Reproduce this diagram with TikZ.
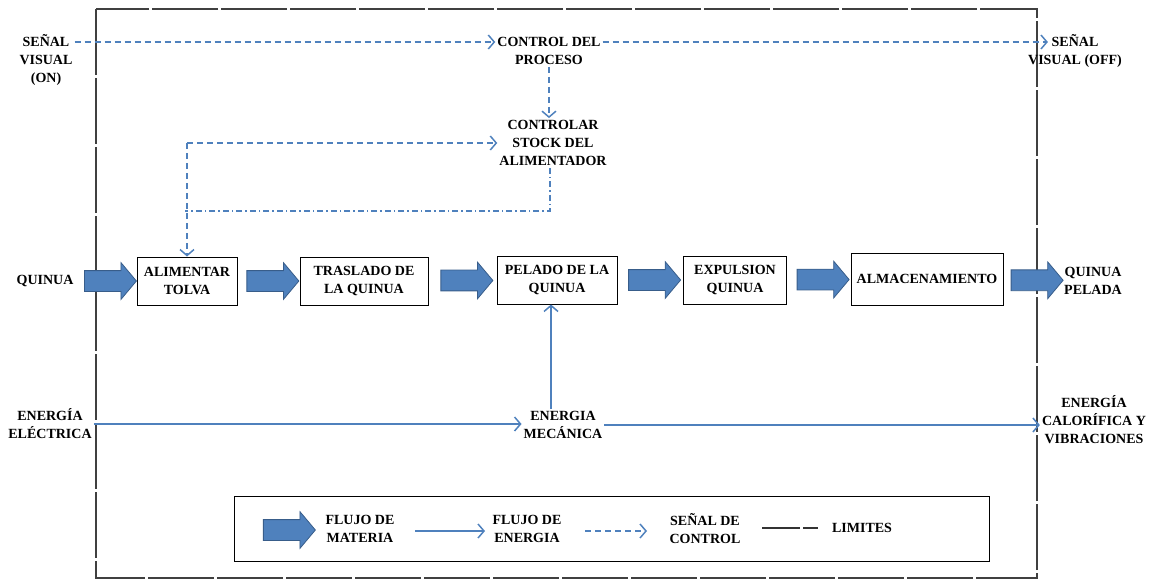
\documentclass[tikz,border=0pt]{standalone}
\usepackage{fontspec}
\setmainfont{Liberation Serif}
\usetikzlibrary{arrows.meta,shapes.arrows}
\definecolor{FlowBlue}{RGB}{79,129,189}
\definecolor{FlowBlueDark}{RGB}{56,93,138}

\begin{document}
\begin{tikzpicture}[x=1pt, y=-1pt, font=\fontsize{14}{18}\selectfont\bfseries,
    lbl/.style={align=center, inner sep=2pt},
    procbox/.style={draw, line width=1pt, align=center, minimum height=48pt, inner sep=3pt},
    matflow/.style={single arrow, fill=FlowBlue, draw=FlowBlueDark, line width=0.8pt, minimum height=52pt, minimum width=36pt, single arrow head extend=8pt, single arrow tip angle=100, inner xsep=0pt, inner ysep=10pt},
    energ/.style={FlowBlue, line width=1.5pt, -{Straight Barb[length=6pt,width=14pt]}},
    ctrl/.style={energ, dash pattern=on 6pt off 4pt},
    ctrldot/.style={FlowBlue, line width=1.3pt, dash pattern=on 6pt off 3pt on 1.5pt off 3pt},
    limit/.style={black!75, line width=1.5pt, dash pattern=on 66pt off 3pt}]
    \useasboundingbox (0,0) rectangle (1156,581);

    % limites del sistema
    \draw[limit] (96,9) rectangle (1037,578);

    % senales de control
    \node (SenalOn) [lbl] at (46,60) {SEÑAL\\VISUAL\\(ON)};
    \node (Proceso) [lbl] at (549,51) {CONTROL DEL\\PROCESO};
    \node (SenalOff) [lbl] at (1075,51) {SEÑAL\\VISUAL (OFF)};
    \node (Stock) [lbl] at (553,143) {CONTROLAR\\STOCK DEL\\ALIMENTADOR};

    % flujo de materia
    \node (Quinua) [lbl] at (45,281) {QUINUA};
    \node (Tolva) [procbox, minimum width=100pt] at (187,281) {ALIMENTAR\\TOLVA};
    \node (Traslado) [procbox, minimum width=128pt] at (364,281) {TRASLADO DE\\LA QUINUA};
    \node (Pelado) [procbox, minimum width=120pt] at (557,280) {PELADO DE LA\\QUINUA};
    \node (Expulsion) [procbox, minimum width=103pt] at (735,280) {EXPULSION\\QUINUA};
    \node (Almacen) [procbox, minimum width=152pt, minimum height=52pt, inner xsep=1pt] at (927,279) {ALMACENAMIENTO};
    \node (QuinuaPelada) [lbl] at (1093,281) {QUINUA\\PELADA};

    % flujo de energia
    \node (Electrica) [lbl] at (50,424) {ENERGÍA\\ELÉCTRICA};
    \node (Mecanica) [lbl] at (563,425) {ENERGIA\\MECÁNICA};
    \node (Calorifica) [lbl] at (1094,420) {ENERGÍA\\CALORÍFICA Y\\VIBRACIONES};

    \draw[ctrl] ([yshift=18pt]SenalOn.east) -- ([yshift=9pt]Proceso.west);
    \draw[ctrl] ([yshift=9pt]Proceso.east) -- ([xshift=22pt,yshift=9pt]SenalOff.west);
    \draw[ctrl] (Proceso.south) -- (Proceso.south |- Stock.north);
    \coordinate (Corner) at (Tolva.north |- Stock.west);
    \coordinate (Join) at (185,211);
    \draw[ctrl] (Corner) -- (Stock.west);
    \draw[ctrl] (Corner) -- (Tolva.north);
    \draw[ctrldot] ([xshift=-3pt]Stock.south) |- (Join);

    \path (Quinua) -- (Tolva) node[midway, matflow] {};
    \path (Tolva) -- (Traslado) node[midway, matflow] {};
    \path (Traslado) -- (Pelado) node[midway, matflow] {};
    \path (Pelado) -- (Expulsion) node[midway, matflow] {};
    \path (Expulsion) -- (Almacen) node[midway, matflow] {};
    \path (Almacen) -- (QuinuaPelada) node[midway, matflow] {};

    \draw[energ] (Electrica.east) -- (Electrica.east -| Mecanica.west);
    \draw[energ] (Mecanica.east) -- (Mecanica.east -| Calorifica.west);
    \draw[energ] ([xshift=-12pt]Mecanica.north) -- ([xshift=-12pt]Mecanica.north |- Pelado.south);

    % leyenda
    \node (Leyenda) [draw, line width=1pt, minimum width=755pt, minimum height=65pt] at (612,529) {};
    \node (LeyMat) [matflow] at (285,530) {};
    \node (TxtMat) [lbl] at (360,529) {FLUJO DE\\MATERIA};
    \coordinate (EnA) at (415,531);
    \coordinate (EnB) at (485,531);
    \draw[energ] (EnA) -- (EnB);
    \node (TxtEn) [lbl] at (527,529) {FLUJO DE\\ENERGIA};
    \coordinate (CtA) at (585,531);
    \coordinate (CtB) at (647,531);
    \draw[ctrl] (CtA) -- (CtB);
    \node (TxtCt) [lbl] at (705,529) {SEÑAL DE\\CONTROL};
    \coordinate (LimA) at (762,528);
    \coordinate (LimB) at (818,528);
    \draw[black!80, line width=1.2pt, dash pattern=on 38pt off 3pt on 20pt off 3pt] (LimA) -- (LimB);
    \node (TxtLim) [lbl] at (862,528) {LIMITES};
\end{tikzpicture}
\end{document}
